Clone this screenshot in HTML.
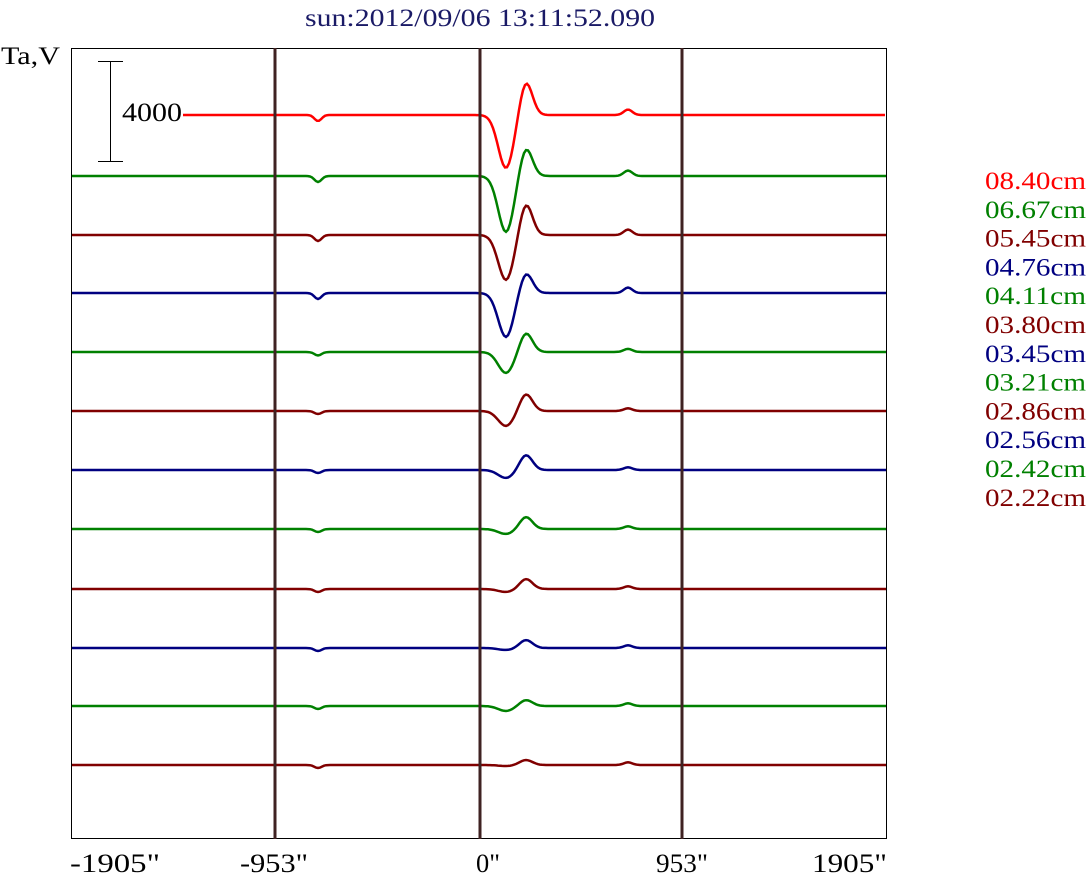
<!DOCTYPE html>
<html><head><meta charset="utf-8"><style>
body{margin:0;background:#fff;}
svg{display:block;font-family:"Liberation Serif",serif;}
</style></head><body>
<svg id="s" width="1086" height="885" xmlns="http://www.w3.org/2000/svg">
<rect x="0" y="0" width="1086" height="885" fill="#fff"/>
<text x="305" y="26" font-size="25" fill="#1a1a66" textLength="350" lengthAdjust="spacingAndGlyphs">sun:2012/09/06 13:11:52.090</text>
<text x="1" y="64" font-size="25" fill="#000" textLength="59" lengthAdjust="spacingAndGlyphs">Ta,V</text>
<rect x="71.5" y="48.5" width="815" height="790" fill="none" stroke="#000" stroke-width="1"/>
<g id="tr"></g>
<g stroke="#3f2222" stroke-width="3">
<line x1="275" y1="48" x2="275" y2="839"/>
<line x1="480" y1="48" x2="480" y2="839"/>
<line x1="682" y1="48" x2="682" y2="839"/>
</g>
<g stroke="#000" stroke-width="1">
<line x1="110.5" y1="61.5" x2="110.5" y2="161.5"/>
<line x1="98" y1="61.5" x2="123" y2="61.5"/>
<line x1="98" y1="161.5" x2="123" y2="161.5"/>
</g>
<rect x="122" y="100" width="61" height="28" fill="#fff"/>
<text x="122" y="121" font-size="26" fill="#000" textLength="60" lengthAdjust="spacingAndGlyphs">4000</text>
<g font-size="26">
<text x="70" y="872" textLength="90" lengthAdjust="spacingAndGlyphs">-1905"</text>
<text x="240" y="872" textLength="68" lengthAdjust="spacingAndGlyphs">-953"</text>
<text x="476" y="872" textLength="24" lengthAdjust="spacingAndGlyphs">0"</text>
<text x="656" y="872" textLength="52" lengthAdjust="spacingAndGlyphs">953"</text>
<text x="812" y="872" textLength="75" lengthAdjust="spacingAndGlyphs">1905"</text>
</g>
<g id="lg" font-size="25"></g>
</svg>
<script>
var C={r:"#ff0000",g:"#008000",d:"#800000",b:"#000080"};
var T=[
["r",115,53,33,"08.40cm"],["g",176,56,28,"06.67cm"],["d",235,45,31,"05.45cm"],["b",293,44,20,"04.76cm"],
["g",352,21,19,"04.11cm"],["d",411,15,17,"03.80cm"],["b",470,8,15,"03.45cm"],["g",529,5,12,"03.21cm"],
["d",589,3,10,"02.86cm"],["b",648,2,8,"02.56cm"],["g",706,5,6,"02.42cm"],["d",765,1,5,"02.22cm"]];
var tr=document.getElementById("tr"),lg=document.getElementById("lg"),ns="http://www.w3.org/2000/svg";
T.forEach(function(t,i){
 var d="",sm=Math.max(3,Math.min(6,t[2]/6));
 var x0=i==0?183:72;
 for(var x=x0;x<=886;x+=2){
  var y=t[1]+t[2]*Math.exp(-Math.pow((x-506)/11,2))-t[3]*Math.exp(-Math.pow((x-526)/9,2))
   +sm*Math.exp(-Math.pow((x-318)/5,2))-sm*0.9*Math.exp(-Math.pow((x-628)/6,2));
  d+=(d?"L":"M")+x+" "+y.toFixed(1);
 }
 var p=document.createElementNS(ns,"path");
 p.setAttribute("d",d);p.setAttribute("fill","none");p.setAttribute("stroke",C[t[0]]);p.setAttribute("stroke-width","2.5");
 tr.appendChild(p);
 var tx=document.createElementNS(ns,"text");
 tx.setAttribute("x","985");tx.setAttribute("y",(189+i*28.8).toFixed(1));tx.setAttribute("fill",C[t[0]]);
 tx.setAttribute("textLength","101");tx.setAttribute("lengthAdjust","spacingAndGlyphs");
 tx.textContent=t[4];lg.appendChild(tx);
});
</script>
</body></html>
